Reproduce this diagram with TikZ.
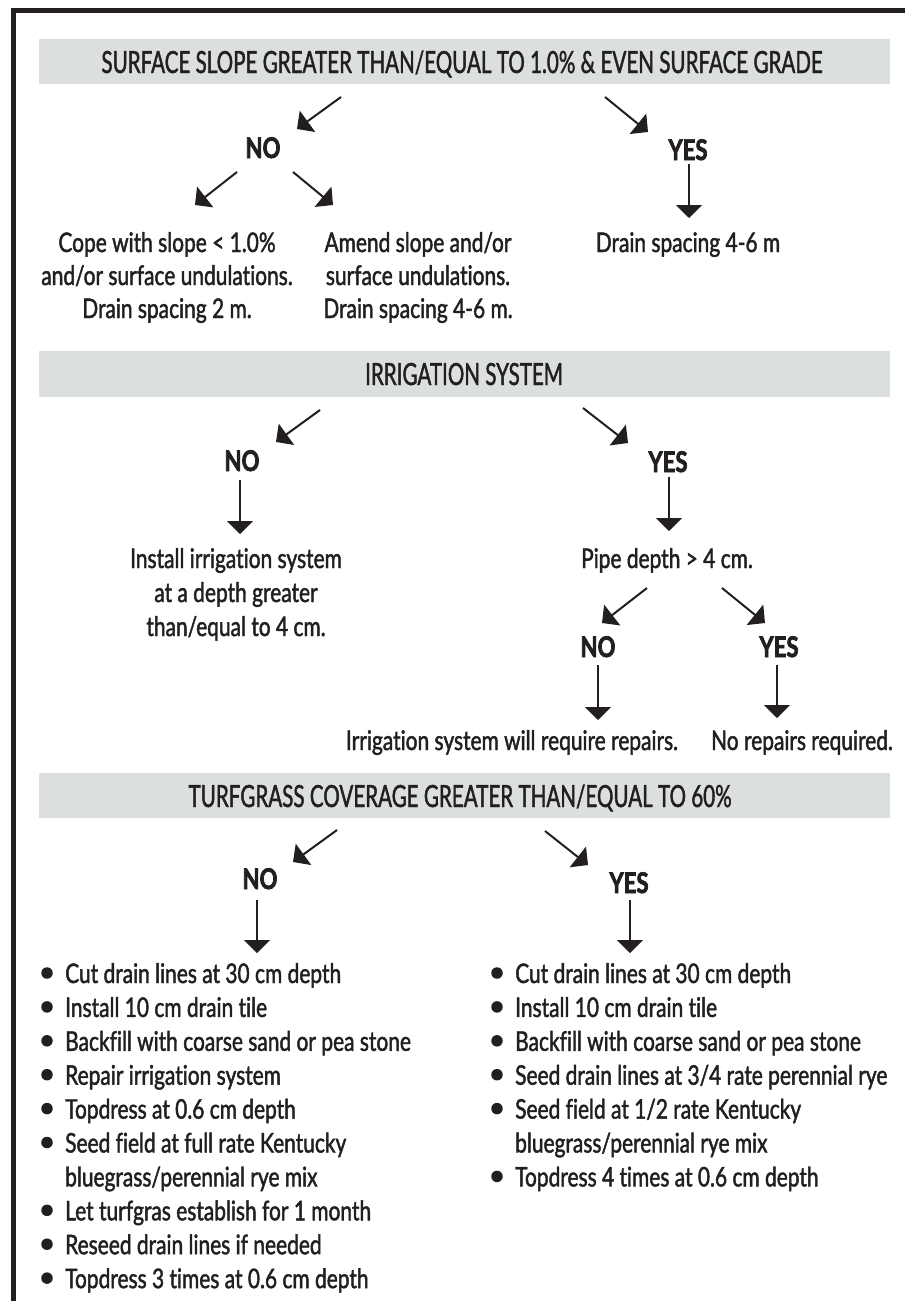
\documentclass[tikz,border=0pt]{standalone}
\usepackage{fontspec}
\setmainfont{Lato}[FakeStretch=0.775, Ligatures=NoCommon, FakeBold=1.6, BoldFeatures={FakeBold=2.5}]
\newfontfamily\headfont{Lato}[FakeStretch=0.675, Ligatures=NoCommon, FakeBold=1.4]
\usetikzlibrary{arrows.meta}
\definecolor{ink}{RGB}{35,31,32}
\definecolor{bandgray}{RGB}{220,223,224}
\begin{document}
\begin{tikzpicture}[x=1pt,y=-1pt,
  txt/.style={anchor=base,inner sep=0pt,text=ink,font=\fontsize{27}{33}\selectfont},
  ltxt/.style={anchor=base west,inner sep=0pt,text=ink,font=\fontsize{27}{33}\selectfont},
  lbl/.style={anchor=base,inner sep=0pt,text=ink,font=\fontsize{28.5}{33}\selectfont\bfseries},
  headtxt/.style={anchor=base,inner sep=0pt,text=ink,font=\headfont\fontsize{30.5}{36}\selectfont},
  arr/.style={draw=ink,line width=2pt,-{Triangle[width=26pt,length=13pt]}},
  bul/.style={circle,fill=ink,inner sep=0pt,minimum size=11.5pt}
]
\useasboundingbox (0,0) rectangle (905,1301);
\fill[white] (0,0) rectangle (905,1301);
% frame
\fill[ink] (11,8) rectangle (905,13);
\fill[ink] (11,8) rectangle (16,1301);
% bands
\fill[bandgray] (39,39) rectangle (890,84);
\fill[bandgray] (39,351) rectangle (890,397);
\fill[bandgray] (39,773) rectangle (890,818);

% ---------- section 1
\node[headtxt] (h1) at (462,73) {SURFACE SLOPE GREATER THAN/EQUAL TO 1.0\% \& EVEN SURFACE GRADE};
\node[lbl] (no1) at (263,158) {NO};
\node[lbl] (yes1) at (688,160) {YES};
\node[txt] (c1) at (167,252) {Cope with slope < 1.0\%};
\node[txt] (c2) at (167,285) {and/or surface undulations.};
\node[txt] (c3) at (167,318) {Drain spacing 2 m.};
\node[txt] (m1) at (418,252) {Amend slope and/or};
\node[txt] (m2) at (418,285) {surface undulations.};
\node[txt] (m3) at (418,318) {Drain spacing 4-6 m.};
\node[txt] (d1) at (688,252) {Drain spacing 4-6 m};

\coordinate (a1s) at (341,97);  \coordinate (a1e) at (297,129);
\coordinate (a2s) at (605,97);  \coordinate (a2e) at (648,132);
\coordinate (a3s) at (237,172); \coordinate (a3e) at (195,205);
\coordinate (a4s) at (293,172); \coordinate (a4e) at (333,205);
\draw[arr] (a1s) -- (a1e);
\draw[arr] (a2s) -- (a2e);
\draw[arr] (a3s) -- (a3e);
\draw[arr] (a4s) -- (a4e);
\coordinate (v1s) at (689,164); \coordinate (v1e) at (689,218);
\draw[arr] (v1s) -- (v1e);

% ---------- section 2
\node[headtxt] (h2) at (464,385) {IRRIGATION SYSTEM};
\node[lbl] (no2) at (242,471) {NO};
\node[lbl] (yes2) at (668,472) {YES};
\node[txt] (i1) at (236,568) {Install irrigation system};
\node[txt] (i2) at (236,602) {at a depth greater};
\node[txt] (i3) at (236,636) {than/equal to 4 cm.};
\node[txt] (p1) at (667,568) {Pipe depth > 4 cm.};
\node[lbl] (no3) at (598,657) {NO};
\node[lbl] (yes3) at (779,657) {YES};
\node[txt] (r1) at (512,750) {Irrigation system will require repairs.};
\node[txt] (r2) at (802,750) {No repairs required.};

\coordinate (b1s) at (320,410); \coordinate (b1e) at (276,442);
\coordinate (b2s) at (583,408); \coordinate (b2e) at (628,443);
\coordinate (b3s) at (647,588); \coordinate (b3e) at (602,623);
\coordinate (b4s) at (722,588); \coordinate (b4e) at (765,623);
\draw[arr] (b1s) -- (b1e);
\draw[arr] (b2s) -- (b2e);
\draw[arr] (b3s) -- (b3e);
\draw[arr] (b4s) -- (b4e);
\coordinate (v2s) at (240,480); \coordinate (v2e) at (240,534);
\coordinate (v3s) at (669,477); \coordinate (v3e) at (669,531);
\coordinate (v4s) at (598,665); \coordinate (v4e) at (598,720);
\coordinate (v5s) at (777,665); \coordinate (v5e) at (777,718);
\draw[arr] (v2s) -- (v2e);
\draw[arr] (v3s) -- (v3e);
\draw[arr] (v4s) -- (v4e);
\draw[arr] (v5s) -- (v5e);

% ---------- section 3
\node[headtxt] (h3) at (460,807) {TURFGRASS COVERAGE GREATER THAN/EQUAL TO 60\%};
\node[lbl] (no4) at (260,889) {NO};
\node[lbl] (yes4) at (629,893) {YES};
\coordinate (e1s) at (337,830); \coordinate (e1e) at (293,862);
\coordinate (e2s) at (545,831); \coordinate (e2e) at (588,865);
\draw[arr] (e1s) -- (e1e);
\draw[arr] (e2s) -- (e2e);
\coordinate (v6s) at (257,900); \coordinate (v6e) at (257,953);
\coordinate (v7s) at (630,900); \coordinate (v7e) at (630,953);
\draw[arr] (v6s) -- (v6e);
\draw[arr] (v7s) -- (v7e);

% left list
\foreach \t/\k/\b [count=\n] in {
  {Cut drain lines at 30 cm depth}/0/1,
  {Install 10 cm drain tile}/1/1,
  {Backfill with coarse sand or pea stone}/2/1,
  {Repair irrigation system}/3/1,
  {Topdress at 0.6 cm depth}/4/1,
  {Seed field at full rate Kentucky}/5/1,
  {bluegrass/perennial rye mix}/6/0,
  {Let turfgras establish for 1 month}/7/1,
  {Reseed drain lines if needed}/8/1,
  {Topdress 3 times at 0.6 cm depth}/9/1}{
  \node[ltxt] (L\n) at (65,983+33.9*\k) {\t};
  \ifnum\b=1 \node[bul] (LB\n) at (47,973+33.9*\k) {};\fi
}
% right list
\foreach \t/\k/\b [count=\n] in {
  {Cut drain lines at 30 cm depth}/0/1,
  {Install 10 cm drain tile}/1/1,
  {Backfill with coarse sand or pea stone}/2/1,
  {Seed drain lines at 3/4 rate perennial rye}/3/1,
  {Seed field at 1/2 rate Kentucky}/4/1,
  {bluegrass/perennial rye mix}/5/0,
  {Topdress 4 times at 0.6 cm depth}/6/1}{
  \node[ltxt] (R\n) at (515,983+33.9*\k) {\t};
  \ifnum\b=1 \node[bul] (RB\n) at (497,973+33.9*\k) {};\fi
}
\end{tikzpicture}
\end{document}
